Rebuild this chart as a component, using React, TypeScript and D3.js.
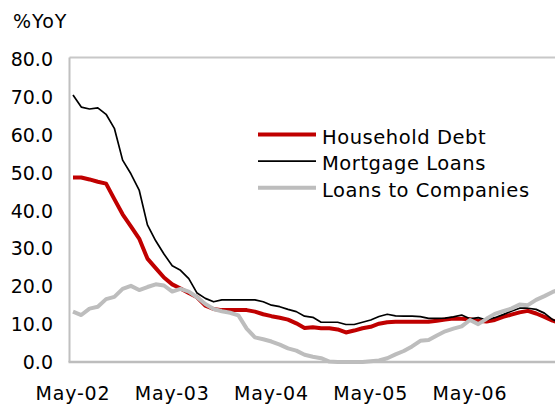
import React from "react";
import * as d3 from "d3";

const W = 555;
const H = 405;

// Monthly observations, May-02 onward
const startMonth = new Date(2002, 4, 1);
const householdDebt = [
  48.7, 48.7, 48.2, 47.6, 47.1, 43.0, 39.0, 35.8, 32.6, 27.3, 24.8, 22.3,
  20.5, 19.4, 18.2, 17.1, 14.9, 14.0, 13.7, 13.7, 13.7, 13.7, 13.3, 12.6,
  12.1, 11.7, 11.2, 10.2, 9.0, 9.2, 8.9, 8.9, 8.6, 7.8, 8.3, 8.9,
  9.3, 10.1, 10.5, 10.6, 10.6, 10.6, 10.6, 10.6, 10.9, 11.2, 11.5, 11.4,
  11.3, 10.9, 10.7, 11.1, 11.9, 12.5, 13.1, 13.5, 12.8, 11.9, 10.9, 10.2,
];
const mortgageLoans = [
  70.5, 67.3, 66.8, 67.1, 65.4, 61.7, 53.3, 49.7, 45.4, 36.2, 32.0, 28.5,
  25.4, 24.2, 22.0, 18.2, 16.8, 15.9, 16.4, 16.4, 16.4, 16.4, 16.4, 15.9,
  15.0, 14.6, 13.9, 13.3, 12.1, 11.8, 10.5, 10.5, 10.5, 9.9, 9.9, 10.5,
  11.1, 12.0, 12.6, 12.2, 12.1, 12.1, 12.0, 11.5, 11.5, 11.6, 11.9, 12.4,
  11.4, 11.7, 11.1, 11.7, 12.5, 13.4, 14.2, 14.2, 13.9, 12.9, 11.2, 10.2,
];
const loansToCompanies = [
  13.3, 12.4, 14.1, 14.6, 16.6, 17.2, 19.3, 20.1, 19.0, 19.8, 20.5, 20.2,
  18.6, 19.3, 18.6, 17.1, 15.3, 14.0, 13.4, 13.0, 12.3, 8.8, 6.5, 6.0,
  5.4, 4.6, 3.6, 3.0, 1.9, 1.4, 1.0, 0.1, 0.0, 0.0, 0.0, 0.0,
  0.2, 0.4, 1.0, 2.0, 2.9, 4.1, 5.6, 5.8, 7.0, 8.1, 8.8, 9.4,
  11.1, 10.0, 11.4, 12.7, 13.4, 14.1, 15.2, 15.0, 16.4, 17.4, 18.5, 19.3,
];
const yTicks = [0, 10, 20, 30, 40, 50, 60, 70, 80];
const xTickLabels = ["May-02", "May-03", "May-04", "May-05", "May-06"];
const seriesNames = ["Household Debt", "Mortgage Loans", "Loans to Companies"];

const months = d3.timeMonths(startMonth, d3.timeMonth.offset(startMonth, householdDebt.length));
const fmtMonth = d3.timeFormat("%b-%y");

const FONT = "'DejaVu Sans', Verdana, sans-serif";

export default function App() {
  const x = d3.scaleLinear().domain([0, 59]).range([73, 73 + 59 * 8.27]);
  const y = d3.scaleLinear().domain([0, 80]).range([362, 59]);

  const line = d3
    .line<number>()
    .x((_, i) => x(i))
    .y((d) => y(d));

  const series = [
    { name: seriesNames[0], data: householdDebt, color: "#C00000", width: 4 },
    { name: seriesNames[1], data: mortgageLoans, color: "#000000", width: 1.7 },
    { name: seriesNames[2], data: loansToCompanies, color: "#BDBDBD", width: 4 },
  ];

  const xTicks = xTickLabels.map((lab) => ({
    lab,
    i: months.findIndex((m) => fmtMonth(m) === lab),
  }));

  const plotLeft = 69.5;
  const plotTop = y(80) - 1.5;
  const plotBottom = y(0);

  return (
    <svg
      width={W}
      height={H}
      style={{ position: "absolute", left: 0, top: 0, background: "#fff" }}
      fontFamily={FONT}
    >
      <defs>
        <clipPath id="plotclip">
          <rect x={plotLeft} y={0} width={W - plotLeft} height={plotBottom + 4} />
        </clipPath>
      </defs>
      <rect x={0} y={0} width={W} height={H} fill="#fff" />
      <text x={13} y={28} fontSize={19} letterSpacing={1} fill="#000">
        %YoY
      </text>
      {/* frame */}
      <line x1={plotLeft} x2={W} y1={plotTop} y2={plotTop} stroke="#C8C8C8" strokeWidth={2} />
      <line x1={plotLeft} x2={plotLeft} y1={plotTop} y2={plotBottom} stroke="#C0C0C0" strokeWidth={2} />
      {/* y tick labels */}
      {yTicks.map((t) => (
        <text key={t} x={53} y={y(t) + 7} fontSize={19} textAnchor="end" fill="#000">
          {d3.format(".1f")(t)}
        </text>
      ))}
      {/* x tick labels */}
      {xTicks.map((t) => (
        <text key={t.lab} x={x(t.i)} y={400} fontSize={19} letterSpacing={0.8} textAnchor="middle" fill="#000">
          {t.lab}
        </text>
      ))}
      <g clipPath="url(#plotclip)">
        {series.map((s) => (
          <path
            key={s.name}
            d={line(s.data) || ""}
            fill="none"
            stroke={s.color}
            strokeWidth={s.width}
            strokeLinejoin="round"
          />
        ))}
      </g>
      <line x1={plotLeft - 1} x2={W} y1={plotBottom} y2={plotBottom} stroke="#BDBDBD" strokeWidth={2.5} />
      {/* legend */}
      {series.map((s, k) => {
        const base = 143.5 + k * 26.6;
        return (
          <g key={s.name}>
            <line x1={258} x2={316} y1={base - 9} y2={base - 9} stroke={s.color} strokeWidth={s.width} />
            <text x={322} y={base} fontSize={19.5} letterSpacing={0.55} fill="#000">
              {s.name}
            </text>
          </g>
        );
      })}
    </svg>
  );
}
